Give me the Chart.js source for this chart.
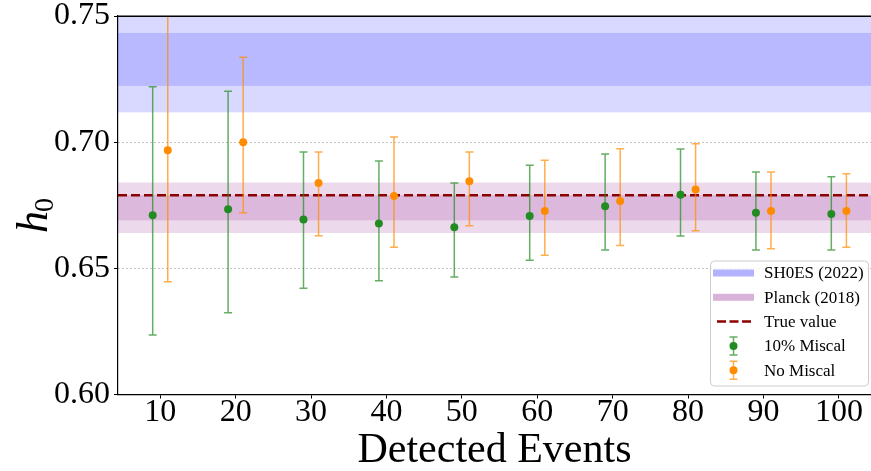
<!DOCTYPE html>
<html>
<head>
<meta charset="utf-8">
<script src="https://cdn.jsdelivr.net/npm/chart.js@4/dist/chart.umd.min.js"></script>
<style>
  html, body { margin: 0; padding: 0; background: #fff; }
  #wrap { width: 871px; height: 471px; position: relative; }
</style>
</head>
<body>
<div id="wrap"><canvas id="h0Chart"></canvas></div>
<script>
// Number of detected events per run
const events = [10, 20, 30, 40, 50, 60, 70, 80, 90, 100];

// h0 posterior: median and credible interval, 10% miscalibration
const miscalMid  = [0.6710, 0.6734, 0.6694, 0.6678, 0.6663, 0.6707, 0.6746, 0.6792, 0.6720, 0.6715];
const miscalLow  = [0.6236, 0.6324, 0.6421, 0.6451, 0.6466, 0.6532, 0.6573, 0.6628, 0.6573, 0.6573];
const miscalHigh = [0.7220, 0.7202, 0.6961, 0.6925, 0.6838, 0.6909, 0.6953, 0.6973, 0.6882, 0.6863];

// h0 posterior without miscalibration
const noMiscalMid  = [0.6968, 0.7000, 0.6838, 0.6787, 0.6845, 0.6727, 0.6767, 0.6812, 0.6727, 0.6727];
const noMiscalLow  = [0.6447, 0.6720, 0.6629, 0.6584, 0.6669, 0.6552, 0.6590, 0.6649, 0.6578, 0.6584];
const noMiscalHigh = [0.7560, 0.7337, 0.6961, 0.7020, 0.6961, 0.6928, 0.6974, 0.6994, 0.6882, 0.6875];

// Reference measurements (2 sigma, 1 sigma)
const shoesBands  = [[0.7118, 0.7538], [0.7223, 0.7433]];
const planckBands = [[0.6640, 0.6840], [0.6690, 0.6790]];
const trueValue = 0.679;

const xTicks = [10, 20, 30, 40, 50, 60, 70, 80, 90, 100];
const yTicks = [0.60, 0.65, 0.70, 0.75];

const SERIF = "'Liberation Serif', 'Times New Roman', serif";
const GREEN = "#228b22";
const ORANGE = "#ff8c00";
const SHIFT = 1; // horizontal offset between the two series

const legendItems = [
  { label: "SH0ES (2022)", kind: "band", color: "rgba(0,0,255,0.3)" },
  { label: "Planck (2018)", kind: "band", color: "rgba(128,0,128,0.3)" },
  { label: "True value", kind: "dash", color: "#8b0000" },
  { label: "10% Miscal", kind: "err", color: GREEN, bar: "rgba(34,139,34,0.7)" },
  { label: "No Miscal", kind: "err", color: ORANGE, bar: "rgba(255,140,0,0.7)" },
];

function drawErrorBars(ctx, x, y, low, high, shift, color) {
  ctx.strokeStyle = color;
  ctx.lineWidth = 1.5;
  events.forEach((e, i) => {
    const px = x.getPixelForValue(e + shift);
    const pLo = y.getPixelForValue(low[i]);
    const pHi = y.getPixelForValue(high[i]);
    ctx.beginPath();
    ctx.moveTo(px, pLo);
    ctx.lineTo(px, pHi);
    ctx.moveTo(px - 4, pLo);
    ctx.lineTo(px + 4, pLo);
    ctx.moveTo(px - 4, pHi);
    ctx.lineTo(px + 4, pHi);
    ctx.stroke();
  });
}

// no extra room for overflowing tick labels
function zeroPadding(scale) {
  scale.paddingTop = 0;
  scale.paddingBottom = 0;
  scale.paddingLeft = 0;
  scale.paddingRight = 0;
}

// Shaded reference bands, true value line and error bars under the points
const underlayPlugin = {
  id: "underlay",
  beforeDatasetsDraw(chart) {
    const { ctx, chartArea: a, scales: { x, y } } = chart;
    ctx.save();
    ctx.beginPath();
    ctx.rect(a.left, a.top, a.right - a.left, a.bottom - a.top);
    ctx.clip();

    const fillBand = (band, color) => {
      const top = y.getPixelForValue(band[1]);
      const bot = y.getPixelForValue(band[0]);
      ctx.fillStyle = color;
      ctx.fillRect(a.left, top, a.right - a.left, bot - top);
    };
    shoesBands.forEach((b) => fillBand(b, "rgba(0,0,255,0.15)"));
    planckBands.forEach((b) => fillBand(b, "rgba(128,0,128,0.15)"));

    const ty = y.getPixelForValue(trueValue);
    ctx.strokeStyle = "#8b0000";
    ctx.lineWidth = 2.5;
    ctx.setLineDash([9, 4]);
    ctx.beginPath();
    ctx.moveTo(a.left, ty);
    ctx.lineTo(a.right, ty);
    ctx.stroke();
    ctx.setLineDash([]);

    drawErrorBars(ctx, x, y, miscalLow, miscalHigh, -SHIFT, "rgba(34,139,34,0.7)");
    drawErrorBars(ctx, x, y, noMiscalLow, noMiscalHigh, SHIFT, "rgba(255,140,0,0.7)");
    ctx.restore();
  },
  afterDraw(chart) {
    const { ctx, chartArea: a } = chart;
    ctx.save();

    // top spine
    ctx.strokeStyle = "#000";
    ctx.lineWidth = 1.5;
    ctx.beginPath();
    ctx.moveTo(a.left, Math.round(a.top) + 0.25);
    ctx.lineTo(a.right, Math.round(a.top) + 0.25);
    ctx.stroke();

    // y axis label h_0
    ctx.translate(47, 233);
    ctx.rotate(-Math.PI / 2);
    ctx.fillStyle = "#000";
    ctx.textBaseline = "alphabetic";
    ctx.textAlign = "left";
    ctx.font = "italic 44px " + SERIF;
    ctx.fillText("h", 0, 0);
    const hw = ctx.measureText("h").width;
    ctx.font = "28px " + SERIF;
    ctx.fillText("0", hw - 1, 6);
    ctx.restore();

    // legend
    const W = 158, H = 125;
    const L = a.right - W - 3;
    const T = a.bottom - H - 9;
    ctx.save();
    ctx.fillStyle = "rgba(255,255,255,0.8)";
    ctx.strokeStyle = "#cccccc";
    ctx.lineWidth = 1;
    ctx.beginPath();
    ctx.roundRect(L + 0.5, T + 0.5, W, H, 4);
    ctx.fill();
    ctx.stroke();

    ctx.font = "17px " + SERIF;
    ctx.textBaseline = "middle";
    ctx.textAlign = "left";
    legendItems.forEach((item, i) => {
      const cy = T + 12.5 + i * 24.3;
      const hx0 = L + 3, hx1 = L + 44, hc = (hx0 + hx1) / 2;
      if (item.kind === "band") {
        ctx.fillStyle = item.color;
        ctx.fillRect(hx0, cy - 3.5, hx1 - hx0, 7);
      } else if (item.kind === "dash") {
        ctx.strokeStyle = item.color;
        ctx.lineWidth = 2.5;
        ctx.setLineDash([9, 3.5]);
        ctx.beginPath();
        ctx.moveTo(hx0 + 4, cy);
        ctx.lineTo(hx1 - 3, cy);
        ctx.stroke();
        ctx.setLineDash([]);
      } else {
        ctx.strokeStyle = item.bar;
        ctx.lineWidth = 1.5;
        ctx.beginPath();
        ctx.moveTo(hc, cy - 9);
        ctx.lineTo(hc, cy + 9);
        ctx.moveTo(hc - 4, cy - 9);
        ctx.lineTo(hc + 4, cy - 9);
        ctx.moveTo(hc - 4, cy + 9);
        ctx.lineTo(hc + 4, cy + 9);
        ctx.stroke();
        ctx.fillStyle = item.color;
        ctx.beginPath();
        ctx.arc(hc, cy, 4, 0, Math.PI * 2);
        ctx.fill();
      }
      ctx.fillStyle = "#000";
      ctx.fillText(item.label, L + 54, cy + 1);
    });
    ctx.restore();
  },
};

const toPoints = (mid, shift) => events.map((e, i) => ({ x: e + shift, y: mid[i] }));

new Chart(document.getElementById("h0Chart"), {
  type: "scatter",
  data: {
    datasets: [
      {
        label: "10% Miscal",
        data: toPoints(miscalMid, -SHIFT),
        backgroundColor: GREEN,
        borderWidth: 0,
        pointRadius: 4,
      },
      {
        label: "No Miscal",
        data: toPoints(noMiscalMid, SHIFT),
        backgroundColor: ORANGE,
        borderWidth: 0,
        pointRadius: 4,
      },
    ],
  },
  options: {
    responsive: true,
    maintainAspectRatio: false,
    animation: false,
    layout: { autoPadding: false, padding: { top: 16, right: 0, bottom: 0, left: 0 } },
    plugins: {
      legend: { display: false },
      tooltip: { enabled: false },
    },
    scales: {
      x: {
        type: "linear",
        min: 4.4,
        max: 104.26,
        afterBuildTicks: (scale) => { scale.ticks = xTicks.map((v) => ({ value: v })); },
        afterFit: (scale) => { scale.height = 76.5; zeroPadding(scale); },
        ticks: {
          color: "#000",
          font: { family: SERIF, size: 32 },
          padding: -5,
          maxRotation: 0,
        },
        grid: {
          drawOnChartArea: false,
          drawTicks: true,
          tickLength: 4,
          tickColor: "#000",
        },
        border: { display: true, color: "#000", width: 1.2 },
        title: {
          display: true,
          text: "Detected Events",
          color: "#000",
          font: { family: SERIF, size: 42 },
          padding: { top: 0, bottom: -5 },
        },
      },
      y: {
        min: 0.6,
        max: 0.75,
        afterBuildTicks: (scale) => { scale.ticks = yTicks.map((v) => ({ value: v })); },
        afterFit: (scale) => { scale.width = 118; zeroPadding(scale); },
        ticks: {
          color: "#000",
          font: { family: SERIF, size: 32 },
          padding: 4,
          callback: (v) => v.toFixed(2),
        },
        grid: {
          color: "#b0b0b0",
          lineWidth: 1,
          tickLength: 4,
          tickColor: "#000",
        },
        border: { display: true, color: "#000", width: 1.2, dash: [1.5, 2.5] },
      },
    },
  },
  plugins: [underlayPlugin],
});
</script>
</body>
</html>
